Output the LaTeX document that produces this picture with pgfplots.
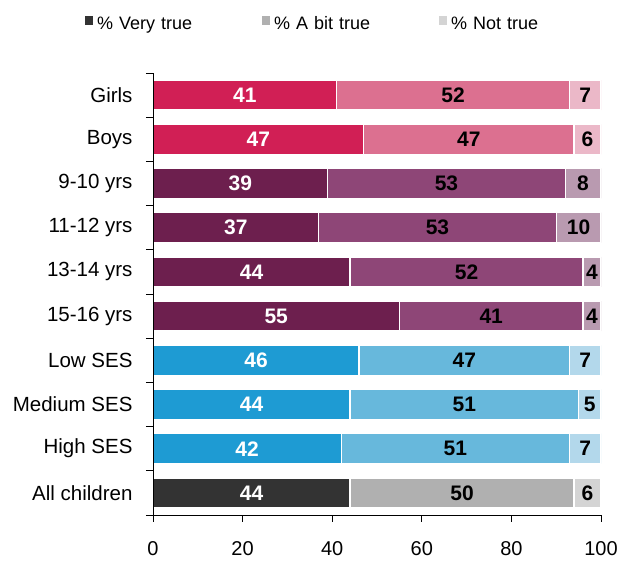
\documentclass[border=0pt]{standalone}
\usepackage{pgfplots}
\usepackage{pgfplotstable}
\pgfplotsset{compat=1.18}
\usepackage{fontspec}
\setmainfont{Liberation Sans}

\definecolor{gA}{HTML}{D11F55}
\definecolor{gB}{HTML}{DC7090}
\definecolor{gC}{HTML}{EBB8C8}
\definecolor{aA}{HTML}{6D1F4E}
\definecolor{aB}{HTML}{8E4677}
\definecolor{aC}{HTML}{B99AB0}
\definecolor{sA}{HTML}{1E9BD3}
\definecolor{sB}{HTML}{67B8DC}
\definecolor{sC}{HTML}{B3D8EB}
\definecolor{kA}{HTML}{333333}
\definecolor{kB}{HTML}{B0B0B0}
\definecolor{kC}{HTML}{D4D4D4}

\pgfplotstableread{
y very bit not
9 41 52 7
8 47 47 6
}\gender
\pgfplotstableread{
y very bit not
7 39 53 8
6 37 53 10
5 44 52 4
4 55 41 4
}\age
\pgfplotstableread{
y very bit not
3 46 47 7
2 44 51 5
1 42 51 7
}\ses
\pgfplotstableread{
y very bit not
0 44 50 6
}\allc

\pgfplotsset{
  base/.style={scale only axis, width=448pt, height=442pt,
    xmin=0, xmax=100, ymin=-0.5, ymax=9.5,
    /pgf/number format/assume math mode=true,
    at={(153pt,46pt)}, anchor=south west, xbar stacked, bar width=30pt},
  seg/.style n args={3}{fill=#1, draw=white, line width=1.3pt,
    nodes near coords, point meta=explicit,
    nodes near coords style={anchor=center,
      font=\fontsize{21}{24}\selectfont\bfseries, text=#3}},
}

\begin{document}
\begin{tikzpicture}
\useasboundingbox (0,0) rectangle (618pt,561pt);

\begin{axis}[base, hide axis]
\addplot[seg={gA}{very}{white}] table[x=very, y=y, meta=very]{\gender};
\addplot[seg={gB}{bit}{black}] table[x=bit, y=y, meta=bit]{\gender};
\addplot[seg={gC}{not}{black}] table[x=not, y=y, meta=not]{\gender};
\end{axis}

\begin{axis}[base, hide axis]
\addplot[seg={aA}{very}{white}] table[x=very, y=y, meta=very]{\age};
\addplot[seg={aB}{bit}{black}] table[x=bit, y=y, meta=bit]{\age};
\addplot[seg={aC}{not}{black}] table[x=not, y=y, meta=not]{\age};
\end{axis}

\begin{axis}[base, hide axis]
\addplot[seg={sA}{very}{white}] table[x=very, y=y, meta=very]{\ses};
\addplot[seg={sB}{bit}{black}] table[x=bit, y=y, meta=bit]{\ses};
\addplot[seg={sC}{not}{black}] table[x=not, y=y, meta=not]{\ses};
\end{axis}

\begin{axis}[base, axis on top,
  axis x line*=bottom, axis y line*=left,
  axis line style={black, line width=0.8pt},
  tick align=outside, major tick length=7pt,
  tick style={black, line width=0.8pt},
  xtick={0,20,...,100},
  xticklabel style={font=\fontsize{20}{23}\selectfont, yshift=-16pt},
  ytick={-0.5,0.5,...,9.5}, yticklabels={},
  extra y ticks={0,1,2,3,4,5,6,7,8,9},
  extra y tick labels={All children, High SES, Medium SES, Low SES, 15-16 yrs, 13-14 yrs, 11-12 yrs, 9-10 yrs, Boys, Girls},
  extra y tick style={tick style={draw=none},
    yticklabel style={font=\fontsize{20.5}{23}\selectfont, xshift=-10pt}},
  legend columns=3,
  legend style={draw=none, fill=none, inner sep=0pt,
    at={(-0.1518,1.111)}, anchor=west,
    font=\fontsize{18}{21}\selectfont,
    nodes={text width=161pt, inner xsep=4pt, align=left},
    /tikz/every odd column/.append style={column sep=0pt},
    /tikz/every even column/.append style={column sep=0pt}},
  legend image code/.code={\fill[#1, draw=none] (0pt,-1pt) rectangle (8pt,8pt);},
]
\addplot[seg={kA}{very}{white}] table[x=very, y=y, meta=very]{\allc};
\addlegendentry{\% Very true}
\addplot[seg={kB}{bit}{black}] table[x=bit, y=y, meta=bit]{\allc};
\addlegendentry{\% A bit true}
\addplot[seg={kC}{not}{black}] table[x=not, y=y, meta=not]{\allc};
\addlegendentry{\% Not true}
\end{axis}
\end{tikzpicture}
\end{document}
